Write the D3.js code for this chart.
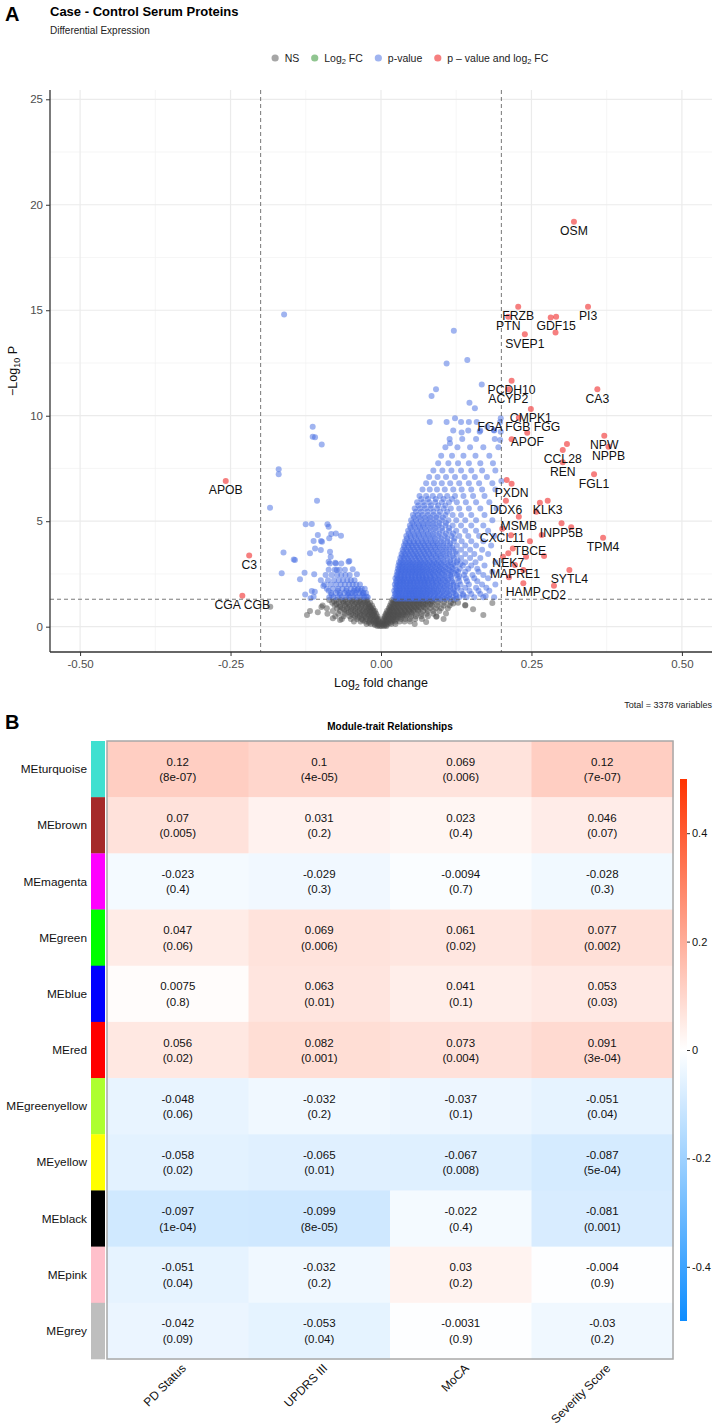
<!DOCTYPE html>
<html><head><meta charset="utf-8">
<script src="https://cdn.jsdelivr.net/npm/d3@7"></script>
<style>body{margin:0;background:#fff}svg{display:block}text{font-family:"Liberation Sans",Arial,Helvetica,sans-serif}</style>
</head><body>
<svg id="c" width="714" height="1427"></svg>
<script>
// ---------------- Volcano data ----------------
const xTicks = [-0.5,-0.25,0,0.25,0.5];
const xTickLabels = ['-0.50','-0.25','0.00','0.25','0.50'];
const xMinorTicks = [-0.375,-0.125,0.125,0.375];
const yTicks = [0,5,10,15,20,25];
const yMinorTicks = [2.5,7.5,12.5,17.5,22.5];
const fcCut = 0.2, pCut = 1.30103;
const legendLabels = ['NS','Log_{2} FC','p-value','p \u2013 value and log_{2} FC'];
const legendColors = ['#4d4d4d','#228b22','#4169e1','#ee0000'];

// NS points: rows of [ -log10 p, [log2FC ...] ]
const nsRows = [
 [1.27,[-0.086,-0.074,-0.066,-0.059,-0.052,-0.046,-0.04,-0.034,-0.028,-0.023,0.019,0.025,0.031,0.037,0.044,0.051,0.058,0.065,0.073,0.081,0.09,0.099,0.109,0.121]],
 [1.2,[-0.078,-0.063,-0.049,-0.037,-0.026,0.021,0.027,0.033,0.04,0.047,0.054,0.061,0.068,0.076,0.085]],
 [1.14,[-0.081,-0.07,-0.062,-0.055,-0.048,-0.041,-0.035,-0.029,-0.023,-0.018,0.017,0.023,0.029,0.035,0.042,0.049,0.056,0.063,0.07,0.078,0.086,0.095,0.105,0.116,0.128]],
 [1.07,[-0.074,-0.058,-0.044,-0.032,-0.021,0.019,0.025,0.031,0.038,0.045,0.052,0.059,0.066,0.074,0.082]],
 [1.0,[-0.097,-0.077,-0.068,-0.06,-0.053,-0.045,-0.038,-0.032,-0.026,-0.02,-0.015,0.015,0.021,0.027,0.033,0.04,0.047,0.054,0.061,0.069,0.077,0.085,0.094,0.104,0.114,0.14]],
 [0.93,[-0.068,-0.052,-0.039,-0.025,-0.018,0.016,0.022,0.028,0.035,0.042,0.049,0.056,0.063,0.071]],
 [0.87,[-0.09,-0.073,-0.064,-0.056,-0.049,-0.042,-0.035,-0.028,-0.022,-0.017,-0.013,0.013,0.018,0.024,0.03,0.037,0.044,0.051,0.058,0.066,0.074,0.082,0.091,0.1,0.111]],
 [0.8,[-0.061,-0.046,-0.032,-0.02,-0.015,0.014,0.019,0.025,0.032,0.039,0.046,0.053,0.061]],
 [0.74,[-0.118,-0.08,-0.068,-0.058,-0.05,-0.043,-0.036,-0.03,-0.024,-0.018,-0.013,-0.01,0.01,0.015,0.021,0.027,0.033,0.04,0.047,0.054,0.062,0.07,0.078,0.087,0.097]],
 [0.67,[-0.054,-0.039,-0.026,-0.019,-0.011,0.011,0.016,0.022,0.028,0.035,0.042,0.05]],
 [0.61,[-0.089,-0.071,-0.06,-0.05,-0.042,-0.035,-0.028,-0.022,-0.016,-0.012,-0.008,0.008,0.013,0.018,0.024,0.03,0.037,0.044,0.051,0.059,0.067,0.076,0.087]],
 [0.55,[-0.046,-0.032,-0.019,-0.013,0.009,0.014,0.02,0.026,0.033,0.04]],
 [0.49,[-0.076,-0.062,-0.052,-0.043,-0.035,-0.028,-0.021,-0.015,-0.01,-0.006,0.006,0.011,0.016,0.022,0.028,0.035,0.042,0.05,0.058,0.067,0.078,0.092]],
 [0.43,[-0.038,-0.025,-0.017,-0.008,0.007,0.012,0.017,0.024,0.031]],
 [0.37,[-0.065,-0.05,-0.04,-0.032,-0.025,-0.018,-0.012,-0.007,-0.004,0.004,0.009,0.014,0.02,0.026,0.033,0.04,0.048,0.057,0.068,0.104]],
 [0.31,[-0.03,-0.016,-0.01,-0.005,0.005,0.01,0.016,0.022]],
 [0.25,[-0.045,-0.034,-0.026,-0.019,-0.013,-0.008,-0.004,0.003,0.007,0.012,0.018,0.024,0.031,0.039,0.048]],
 [0.19,[-0.02,-0.009,-0.003,0.004,0.009,0.015]],
 [0.13,[-0.024,-0.017,-0.011,-0.006,-0.002,0.002,0.006,0.011,0.017,0.024,0.056]],
 [0.08,[-0.01,-0.004,0.003,0.008]],
 [0.03,[-0.006,-0.002,0.001,0.005,0.009]]
];
const nsExtra = [[-0.184,0.95],[-0.123,0.55],[-0.105,0.68],[-0.099,0.93],[-0.08,0.4],[-0.068,0.32],[0.14,1.03],[0.17,0.55],[0.092,0.47],[0.12,1.1],[0.153,0.83],[0.185,1.12],[0.075,0.22],[0.108,0.62]];

// p-value only points (blue): rows for the dense right mass
const blueRows = [
 [1.32,[0.025,0.03,0.035,0.04,0.045,0.05,0.055,0.06,0.065,0.071,0.077,0.084,0.091,0.098,0.106,0.115,0.125]],
 [1.4,[0.022,0.027,0.032,0.037,0.042,0.047,0.052,0.057,0.062,0.068,0.074,0.08,0.087,0.094,0.102,0.11,0.12,0.13,0.142,0.155,0.17,0.188]],
 [1.48,[0.025,0.031,0.036,0.042,0.047,0.053,0.058,0.064,0.069,0.075,0.081,0.088,0.095,0.104,0.113,0.125,0.137]],
 [1.55,[0.023,0.029,0.034,0.04,0.045,0.05,0.055,0.06,0.066,0.071,0.077,0.083,0.09,0.097,0.105,0.114,0.124,0.136,0.15,0.165]],
 [1.62,[0.025,0.03,0.035,0.041,0.046,0.051,0.056,0.062,0.067,0.073,0.079,0.086,0.093,0.101,0.11,0.12]],
 [1.7,[0.022,0.027,0.032,0.038,0.043,0.048,0.053,0.058,0.064,0.07,0.076,0.082,0.088,0.095,0.103,0.112,0.122,0.133,0.147,0.162,0.18]],
 [1.78,[0.026,0.032,0.037,0.043,0.049,0.055,0.061,0.066,0.072,0.078,0.085,0.092,0.1,0.109,0.12]],
 [1.85,[0.024,0.03,0.035,0.041,0.046,0.052,0.057,0.063,0.069,0.075,0.081,0.088,0.096,0.105,0.115,0.127,0.14,0.158,0.175]],
 [1.93,[0.026,0.031,0.037,0.042,0.048,0.054,0.059,0.065,0.071,0.077,0.084,0.091,0.098,0.106,0.115,0.126]],
 [2.0,[0.023,0.028,0.034,0.039,0.045,0.05,0.056,0.062,0.068,0.074,0.08,0.087,0.094,0.102,0.11,0.12,0.132,0.146,0.168,0.19]],
 [2.08,[0.026,0.032,0.037,0.043,0.048,0.054,0.06,0.066,0.072,0.078,0.085,0.092,0.1,0.11,0.121]],
 [2.15,[0.025,0.031,0.036,0.042,0.048,0.053,0.059,0.065,0.071,0.077,0.084,0.091,0.099,0.108,0.118,0.13,0.143,0.16]],
 [2.22,[0.027,0.033,0.038,0.044,0.05,0.056,0.062,0.068,0.074,0.08,0.087,0.095,0.103,0.112]],
 [2.3,[0.024,0.029,0.035,0.04,0.046,0.052,0.058,0.064,0.07,0.076,0.083,0.09,0.098,0.107,0.117,0.128,0.141,0.155,0.178]],
 [2.38,[0.027,0.033,0.039,0.045,0.051,0.057,0.063,0.069,0.075,0.082,0.089,0.097,0.106,0.116,0.13]],
 [2.45,[0.026,0.032,0.038,0.044,0.05,0.056,0.062,0.068,0.074,0.081,0.088,0.096,0.105,0.115,0.126,0.138,0.152,0.17]],
 [2.53,[0.029,0.035,0.041,0.047,0.053,0.059,0.065,0.072,0.079,0.086,0.094,0.102,0.112,0.122]],
 [2.6,[0.027,0.033,0.039,0.045,0.051,0.057,0.063,0.069,0.076,0.083,0.09,0.098,0.107,0.117,0.128,0.14,0.162,0.185]],
 [2.68,[0.03,0.036,0.042,0.048,0.054,0.06,0.067,0.073,0.08,0.088,0.096,0.104,0.114,0.125]],
 [2.75,[0.028,0.034,0.04,0.046,0.052,0.058,0.064,0.07,0.077,0.084,0.092,0.1,0.109,0.119,0.131,0.145,0.16]],
 [2.83,[0.031,0.037,0.043,0.05,0.056,0.062,0.068,0.075,0.082,0.09,0.098,0.107,0.117]],
 [2.9,[0.029,0.035,0.041,0.047,0.053,0.059,0.065,0.072,0.079,0.086,0.094,0.102,0.112,0.123,0.136,0.15,0.172]],
 [2.98,[0.032,0.038,0.045,0.051,0.057,0.064,0.07,0.077,0.085,0.092,0.1,0.11,0.12,0.132]],
 [3.05,[0.03,0.036,0.042,0.048,0.054,0.061,0.067,0.074,0.081,0.088,0.096,0.105,0.115,0.126,0.14,0.157,0.19]],
 [3.15,[0.033,0.039,0.046,0.052,0.059,0.065,0.072,0.079,0.087,0.095,0.104,0.115,0.127]],
 [3.25,[0.032,0.038,0.044,0.05,0.057,0.063,0.07,0.077,0.084,0.092,0.1,0.11,0.121,0.133,0.148,0.165]],
 [3.35,[0.035,0.041,0.048,0.055,0.061,0.068,0.075,0.083,0.091,0.099,0.108,0.119]],
 [3.45,[0.034,0.04,0.046,0.053,0.059,0.066,0.073,0.08,0.087,0.095,0.104,0.114,0.126,0.14,0.155,0.178]],
 [3.55,[0.037,0.044,0.05,0.057,0.064,0.071,0.078,0.086,0.094,0.103,0.113,0.124]],
 [3.65,[0.036,0.042,0.049,0.055,0.062,0.069,0.076,0.083,0.091,0.1,0.109,0.12,0.133,0.148,0.168]],
 [3.75,[0.039,0.046,0.053,0.06,0.067,0.074,0.082,0.09,0.098,0.108,0.118]],
 [3.85,[0.038,0.045,0.051,0.058,0.065,0.072,0.079,0.087,0.095,0.104,0.114,0.126,0.14,0.158,0.183]],
 [3.95,[0.041,0.048,0.055,0.062,0.07,0.078,0.086,0.094,0.104,0.115]],
 [4.05,[0.04,0.047,0.054,0.061,0.068,0.075,0.083,0.091,0.1,0.11,0.121,0.134,0.15,0.17]],
 [4.18,[0.043,0.05,0.058,0.066,0.074,0.082,0.09,0.1,0.11,0.122]],
 [4.3,[0.042,0.049,0.056,0.063,0.071,0.079,0.087,0.096,0.106,0.117,0.13,0.145,0.163,0.188]],
 [4.42,[0.046,0.054,0.062,0.07,0.078,0.087,0.097,0.108,0.12]],
 [4.55,[0.045,0.052,0.06,0.067,0.075,0.083,0.092,0.102,0.113,0.125,0.14,0.158,0.178]],
 [4.68,[0.049,0.057,0.065,0.073,0.082,0.091,0.101,0.113]],
 [4.8,[0.048,0.055,0.063,0.07,0.078,0.087,0.096,0.107,0.119,0.133,0.15,0.17]],
 [4.92,[0.052,0.06,0.069,0.078,0.087,0.097,0.108]],
 [5.05,[0.05,0.058,0.066,0.074,0.082,0.091,0.101,0.112,0.125,0.14,0.158,0.185]],
 [5.18,[0.055,0.064,0.073,0.082,0.092,0.103]],
 [5.3,[0.053,0.061,0.069,0.078,0.087,0.096,0.107,0.119,0.133,0.15,0.172]],
 [5.45,[0.058,0.067,0.077,0.087,0.098,0.11]],
 [5.6,[0.056,0.065,0.074,0.083,0.093,0.104,0.116,0.13,0.146,0.165,0.192]],
 [5.75,[0.062,0.072,0.083,0.095,0.107]],
 [5.9,[0.06,0.07,0.08,0.09,0.101,0.113,0.126,0.141,0.158,0.18]],
 [6.05,[0.067,0.078,0.091,0.104,0.118]],
 [6.2,[0.064,0.075,0.086,0.098,0.11,0.123,0.137,0.153,0.172]],
 [6.5,[0.069,0.081,0.093,0.106,0.12,0.134,0.15,0.168,0.19]],
 [6.8,[0.075,0.088,0.101,0.115,0.13,0.146,0.163,0.185]],
 [7.1,[0.08,0.094,0.108,0.123,0.139,0.156,0.176]],
 [7.4,[0.087,0.102,0.117,0.133,0.15,0.168,0.19]],
 [7.75,[0.095,0.112,0.128,0.146,0.165,0.186]],
 [8.1,[0.1,0.118,0.137,0.157,0.18]],
 [8.5,[0.107,0.127,0.148,0.17,0.195]],
 [8.9,[0.114,0.135,0.158,0.189]],
 [9.3,[0.12,0.145,0.165,0.188]],
 [9.7,[0.081,0.109,0.133,0.146,0.159,0.198]]
];
// dense left blue rows
const blueLeftRows = [
 [1.4,[-0.086,-0.079,-0.072,-0.065,-0.058,-0.052,-0.046,-0.04,-0.034,-0.028,-0.022]],
 [1.5,[-0.082,-0.068,-0.055,-0.043,-0.031]],
 [1.6,[-0.083,-0.075,-0.068,-0.061,-0.054,-0.048,-0.042,-0.036,-0.03,-0.025]],
 [1.7,[-0.087,-0.072,-0.058,-0.045,-0.034]],
 [1.8,[-0.09,-0.08,-0.071,-0.064,-0.057,-0.05,-0.044,-0.038,-0.032,-0.027]],
 [2.0,[-0.094,-0.084,-0.075,-0.067,-0.06,-0.053,-0.047,-0.041,-0.035]],
 [2.2,[-0.1,-0.088,-0.078,-0.07,-0.063,-0.056,-0.05,-0.044]],
 [2.45,[-0.092,-0.082,-0.073,-0.066,-0.059,-0.052]],
 [2.7,[-0.087,-0.077,-0.069,-0.06]],
 [3.0,[-0.085,-0.075,-0.066]]
];
const blueExtra = [
 [-0.161,14.8],[-0.1135,9.48],[-0.1135,9.0],[-0.1096,8.98],[-0.0985,8.64],[-0.17,7.46],[-0.17,7.22],[-0.1063,5.97],[-0.1844,5.64],
 [-0.1251,4.85],[-0.115,4.87],[-0.089,4.85],[-0.087,4.74],[-0.0827,4.39],[-0.075,4.42],[-0.0665,4.31],[-0.105,4.35],[-0.112,4.06],
 [-0.098,4.03],[-0.086,4.19],[-0.0997,4.06],[-0.1096,3.71],[-0.1,3.64],[-0.118,3.48],[-0.0847,3.55],[-0.0836,3.32],[-0.162,3.52],
 [-0.145,3.19],[-0.143,3.16],[-0.087,3.08],[-0.076,3.03],[-0.054,3.08],[-0.0526,3.11],[-0.047,2.72],[-0.04,2.48],[-0.0736,2.69],
 [-0.165,2.53],[-0.127,2.56],[-0.111,2.48],[-0.1346,2.25],[-0.0958,1.93],[-0.115,1.69],[-0.11,1.66],[-0.126,1.53],[-0.117,1.35],
 [-0.112,1.42],[-0.04,1.74],[-0.0515,1.58],[-0.029,1.58],[-0.024,1.42],
 [0.0914,11.25],[0.084,10.93],[0.121,14.03],[0.109,12.48],[0.1434,12.64],[0.1674,11.48],[0.147,10.62],[0.156,10.35],
 [0.199,9.88],[0.123,9.88],[0.134,9.2],[0.164,9.24],[0.199,9.24],[0.198,8.85],[0.1146,8.69],[0.1877,9.32],[0.1766,9.48],
 [0.2,6.9],[0.174,1.45]
];

// p-value and log2FC points (red)
const redPoints = [
 [0.3206,19.19],[0.344,15.17],[0.228,15.17],[0.2115,14.69],[0.291,14.69],[0.282,14.66],[0.29,13.95],[0.239,13.86],
 [0.217,11.66],[0.2115,11.25],[0.3595,11.25],[0.249,10.32],[0.229,9.9],[0.243,9.19],[0.217,8.88],[0.371,9.05],
 [0.378,8.53],[0.302,8.37],[0.309,8.66],[0.302,7.79],[0.354,7.22],[0.209,6.95],[0.217,6.78],[0.2076,5.97],
 [0.277,5.97],[0.264,5.88],[0.258,5.45],[0.229,5.21],[0.3,4.9],[0.316,4.71],[0.267,4.35],[0.2015,4.64],
 [0.216,4.33],[0.369,4.22],[0.2475,4.05],[0.219,3.71],[0.241,3.32],[0.271,3.35],[0.2026,3.32],[0.2115,3.48],
 [0.2226,2.92],[0.2365,2.69],[0.2126,2.34],[0.313,2.69],[0.2365,2.06],[0.2874,1.94],
 [-0.258,6.9],[-0.219,3.37],[-0.2304,1.47]
];
const redLabels = [
 'OSM','PI3','FRZB','PTN','GDF15','','','SVEP1',
 'PCDH10','ACYP2','CA3','CMPK1','FGA FGB FGG','APOF','','NPW',
 'NPPB','CCL28','','REN','FGL1','','PXDN','DDX6',
 'KLK3','','','MSMB','INPP5B','','','CXCL11',
 '','TPM4','TBCE','','','','','NEK7',
 'MAPRE1','','','SYTL4','HAMP','CD2',
 'APOB','C3','CGA CGB'
];

// ---------------- Heatmap data ----------------
const modules = ['MEturquoise','MEbrown','MEmagenta','MEgreen','MEblue','MEred','MEgreenyellow','MEyellow','MEblack','MEpink','MEgrey'];
const moduleColors = ['#40E0D0','#A52A2A','#FF00FF','#00FF00','#0000FF','#FF0000','#ADFF2F','#FFFF00','#000000','#FFC0CB','#BEBEBE'];
const traits = ['PD Status','UPDRS III','MoCA','Severity Score'];
const corValues = [
 [0.12,0.1,0.069,0.12],
 [0.07,0.031,0.023,0.046],
 [-0.023,-0.029,-0.0094,-0.028],
 [0.047,0.069,0.061,0.077],
 [0.0075,0.063,0.041,0.053],
 [0.056,0.082,0.073,0.091],
 [-0.048,-0.032,-0.037,-0.051],
 [-0.058,-0.065,-0.067,-0.087],
 [-0.097,-0.099,-0.022,-0.081],
 [-0.051,-0.032,0.03,-0.004],
 [-0.042,-0.053,-0.0031,-0.03]
];
const pValues = [
 ['8e-07','4e-05','0.006','7e-07'],
 ['0.005','0.2','0.4','0.07'],
 ['0.4','0.3','0.7','0.3'],
 ['0.06','0.006','0.02','0.002'],
 ['0.8','0.01','0.1','0.03'],
 ['0.02','0.001','0.004','3e-04'],
 ['0.06','0.2','0.1','0.04'],
 ['0.02','0.01','0.008','5e-04'],
 ['1e-04','8e-05','0.4','0.001'],
 ['0.04','0.2','0.2','0.9'],
 ['0.09','0.04','0.9','0.2']
];
const colorbarTicks = [-0.4,-0.2,0,0.2,0.4];

// ---------------- helpers ----------------
const svg = d3.select('#c');
function rich(sel, str, subSize, shift){
  const parts = str.split(/(_\{[^}]*\})/).filter(s=>s.length);
  let down=false;
  parts.forEach(p=>{
    if(p.startsWith('_{')){ sel.append('tspan').attr('font-size',subSize).attr('dy',shift).text(p.slice(2,-1)); down=true; }
    else { const t=sel.append('tspan').text(p); if(down){ t.attr('dy',-shift); down=false; } }
  });
  return sel;
}

// ---------------- Volcano ----------------
const P = {l:50, r:712, t:90, b:652};
const x = d3.scaleLinear().domain([-0.55,0.55]).range([P.l,P.r]);
const y = d3.scaleLinear().domain([-1.2,25.44]).range([P.b,P.t]);

svg.append('text').attr('x',5).attr('y',21).attr('font-size',20).attr('font-weight','bold').text('A');
svg.append('text').attr('x',50).attr('y',16).attr('font-size',13).attr('font-weight','bold').text('Case - Control Serum Proteins');
svg.append('text').attr('x',50).attr('y',34).attr('font-size',10).attr('fill','#222').text('Differential Expression');

// legend
const lg = svg.append('g');
let lx = 0;
legendLabels.forEach((lab,i)=>{
  const g = lg.append('g');
  g.append('circle').attr('cx',lx+3.5).attr('cy',0).attr('r',3.6).attr('fill',legendColors[i]).attr('fill-opacity',0.5);
  const t = rich(g.append('text').attr('x',lx+13).attr('y',0).attr('dy','0.35em').attr('font-size',10.5).attr('fill','#222'), lab, 7.5, 2.5);
  const w = t.node().getComputedTextLength();
  lx += 13 + w + 12;
});
const lgW = lx - 12;
lg.attr('transform',`translate(${410 - lgW/2},58)`);

// grid
const grid = svg.append('g');
grid.selectAll('.xmn').data(xMinorTicks).join('line').attr('x1',d=>x(d)).attr('x2',d=>x(d)).attr('y1',P.t).attr('y2',P.b).attr('stroke','#f2f2f2').attr('stroke-width',0.7);
grid.selectAll('.ymn').data(yMinorTicks).join('line').attr('y1',d=>y(d)).attr('y2',d=>y(d)).attr('x1',P.l).attr('x2',P.r).attr('stroke','#f2f2f2').attr('stroke-width',0.7);
grid.selectAll('.xmj').data(xTicks).join('line').attr('x1',d=>x(d)).attr('x2',d=>x(d)).attr('y1',P.t).attr('y2',P.b).attr('stroke','#ebebeb').attr('stroke-width',1.2);
grid.selectAll('.ymj').data(yTicks).join('line').attr('y1',d=>y(d)).attr('y2',d=>y(d)).attr('x1',P.l).attr('x2',P.r).attr('stroke','#ebebeb').attr('stroke-width',1.2);

// points
const nsPts = nsRows.flatMap(([yy,xs])=>xs.map(v=>[v,yy])).concat(nsExtra);
const bluePts = blueRows.concat(blueLeftRows).flatMap(([yy,xs])=>xs.map(v=>[v,yy])).concat(blueExtra);
const pts = svg.append('g');
const R = 3.0;
pts.selectAll('.ns').data(nsPts).join('circle').attr('cx',d=>x(d[0])).attr('cy',d=>y(d[1])).attr('r',R).attr('fill','#4d4d4d').attr('fill-opacity',0.5);
pts.selectAll('.bl').data(bluePts).join('circle').attr('cx',d=>x(d[0])).attr('cy',d=>y(d[1])).attr('r',R).attr('fill','#4169e1').attr('fill-opacity',0.5);

// cutoff lines
const cut = svg.append('g').attr('stroke','#555').attr('stroke-width',0.8).attr('stroke-dasharray','4,3');
[-fcCut,fcCut].forEach(v=>cut.append('line').attr('x1',x(v)).attr('x2',x(v)).attr('y1',P.t).attr('y2',P.b));
cut.append('line').attr('x1',P.l).attr('x2',P.r).attr('y1',y(pCut)).attr('y2',y(pCut));

pts.append('g').selectAll('circle').data(redPoints).join('circle').attr('cx',d=>x(d[0])).attr('cy',d=>y(d[1])).attr('r',R).attr('fill','#ee0000').attr('fill-opacity',0.5);

// labels
svg.append('g').selectAll('text').data(redPoints.map((d,i)=>[d,redLabels[i]]).filter(d=>d[1]))
  .join('text').attr('x',d=>x(d[0][0])).attr('y',d=>y(d[0][1])+9).attr('dy','0.35em').attr('text-anchor','middle')
  .attr('font-size',12.2).attr('fill','#111').text(d=>d[1]);

// axes
const ax = svg.append('g').attr('transform',`translate(0,${P.b})`)
  .call(d3.axisBottom(x).tickValues(xTicks).tickFormat((d,i)=>xTickLabels[i]).tickSize(4).tickSizeOuter(0).tickPadding(4));
const ay = svg.append('g').attr('transform',`translate(${P.l},0)`)
  .call(d3.axisLeft(y).tickValues(yTicks).tickSize(4).tickSizeOuter(0).tickPadding(3));
[ax,ay].forEach(a=>{
  a.select('.domain').attr('stroke','#333').attr('stroke-width',1.3);
  a.selectAll('.tick line').attr('stroke','#333').attr('stroke-width',1);
  a.selectAll('.tick text').attr('font-size',11.5).attr('fill','#4d4d4d').attr('font-family','"Liberation Sans",Arial,sans-serif');
});
ax.select('.domain').attr('d',`M${P.l},0H${P.r}`);
ay.select('.domain').attr('d',`M0,${P.t}V${P.b}`);

rich(svg.append('text').attr('x',381).attr('y',687).attr('text-anchor','middle').attr('font-size',12.5).attr('fill','#111'),'Log_{2} fold change',9,3);
rich(svg.append('text').attr('transform',`translate(17,${(P.t+P.b)/2}) rotate(-90)`).attr('text-anchor','middle').attr('font-size',12.5).attr('fill','#111'),'\u2212Log_{10} P',9,3);

svg.append('text').attr('x',712).attr('y',708).attr('text-anchor','end').attr('font-size',9).attr('fill','#222').text('Total = 3378 variables');

// ---------------- Heatmap ----------------
svg.append('text').attr('x',5).attr('y',729).attr('font-size',20).attr('font-weight','bold').text('B');
const H = {l:107, r:673, t:741, b:1359};
const xb = d3.scaleBand().domain(traits).range([H.l,H.r]);
const yb = d3.scaleBand().domain(modules).range([H.t,H.b]);
const col = d3.scaleLinear().domain([-0.5,0,0.5]).range(['rgb(13,140,255)','#ffffff','rgb(255,51,0)']).interpolate(d3.interpolateRgb).clamp(true);

svg.append('text').attr('x',(H.l+H.r)/2).attr('y',730).attr('text-anchor','middle').attr('font-size',10).attr('font-weight','bold').text('Module-trait Relationships');

const cells = modules.flatMap((m,i)=>traits.map((t,j)=>({m,t,v:corValues[i][j],p:pValues[i][j]})));
const hg = svg.append('g');
hg.selectAll('rect').data(cells).join('rect').attr('x',d=>xb(d.t)).attr('y',d=>yb(d.m)).attr('width',xb.bandwidth()+0.5).attr('height',yb.bandwidth()+0.5).attr('fill',d=>col(d.v));
const ct = hg.append('g').attr('font-size',11.5).attr('fill','#111').attr('text-anchor','middle');
ct.selectAll('.v').data(cells).join('text').attr('x',d=>xb(d.t)+xb.bandwidth()/2).attr('y',d=>yb(d.m)+yb.bandwidth()/2-3.5).text(d=>String(d.v));
ct.selectAll('.p').data(cells).join('text').attr('x',d=>xb(d.t)+xb.bandwidth()/2).attr('y',d=>yb(d.m)+yb.bandwidth()/2+12).text(d=>'('+d.p+')');
hg.append('rect').attr('x',H.l).attr('y',H.t).attr('width',H.r-H.l).attr('height',H.b-H.t).attr('fill','none').attr('stroke','#a8a8a8').attr('stroke-width',1.5);

// color strip
svg.append('g').selectAll('rect').data(modules).join('rect').attr('x',91).attr('width',14).attr('y',d=>yb(d)).attr('height',yb.bandwidth()+0.3).attr('fill',(d,i)=>moduleColors[i]);
// row labels
svg.append('g').selectAll('text').data(modules).join('text').attr('x',87).attr('y',d=>yb(d)+yb.bandwidth()/2).attr('dy','0.35em').attr('text-anchor','end').attr('font-size',11.8).attr('fill','#111').text(d=>d);
// column labels
svg.append('g').selectAll('text').data(traits).join('text')
  .attr('transform',d=>`translate(${xb(d)+xb.bandwidth()/2+6},${H.b+7}) rotate(-45)`)
  .attr('dy','0.35em').attr('text-anchor','end').attr('font-size',12).attr('fill','#111').text(d=>d);

// colorbar
const CB = {x:680, w:7, t:779, b:1321};
const cy = d3.scaleLinear().domain([-0.5,0.5]).range([CB.b,CB.t]);
const defs = svg.append('defs');
const grad = defs.append('linearGradient').attr('id','cbg').attr('x1',0).attr('y1',1).attr('x2',0).attr('y2',0);
d3.range(0,1.0001,0.05).forEach(f=>grad.append('stop').attr('offset',f).attr('stop-color',col(-0.5+f)));
svg.append('rect').attr('x',CB.x).attr('y',CB.t).attr('width',CB.w).attr('height',CB.b-CB.t).attr('fill','url(#cbg)');
const cbAxis = svg.append('g').attr('transform',`translate(${CB.x+CB.w},0)`)
  .call(d3.axisRight(cy).tickValues(colorbarTicks).tickSize(3).tickPadding(2).tickFormat(d=>String(d)));
cbAxis.select('.domain').remove();
cbAxis.selectAll('.tick line').attr('stroke','#333');
cbAxis.selectAll('.tick text').attr('font-size',11).attr('fill','#111').attr('font-family','"Liberation Sans",Arial,sans-serif');
</script></body></html>
